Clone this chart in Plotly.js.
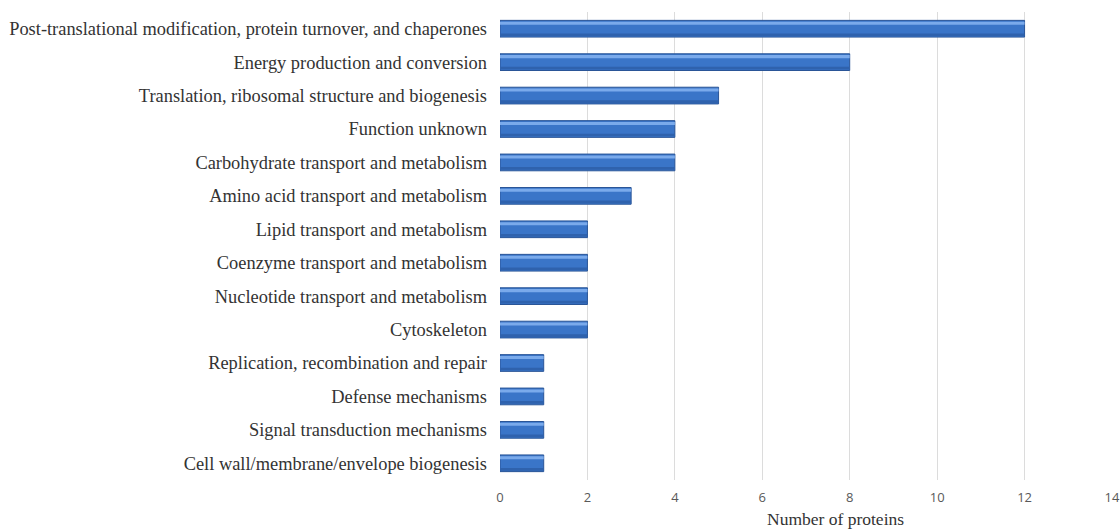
<!DOCTYPE html>
<html>
<head>
<meta charset="utf-8">
<script src="https://cdn.plot.ly/plotly-3.0.1.min.js"></script>
<style>html,body{margin:0;padding:0;background:#fff;}#chart{width:1120px;height:530px;}</style>
</head>
<body>
<div id="chart"></div>
<script>
const categories = [
  "Post-translational modification, protein turnover, and chaperones",
  "Energy production and conversion",
  "Translation, ribosomal structure and biogenesis",
  "Function unknown",
  "Carbohydrate transport and metabolism",
  "Amino acid transport and metabolism",
  "Lipid transport and metabolism",
  "Coenzyme transport and metabolism",
  "Nucleotide transport and metabolism",
  "Cytoskeleton",
  "Replication, recombination and repair",
  "Defense mechanisms",
  "Signal transduction mechanisms",
  "Cell wall/membrane/envelope biogenesis"
];
const proteinCounts = [12, 8, 5, 4, 4, 3, 2, 2, 2, 2, 1, 1, 1, 1];
const xTicks = [0, 2, 4, 6, 8, 10, 12, 14];
const xTitle = "Number of proteins";

const base = {
  type: 'bar', orientation: 'h', x: proteinCounts, y: categories,
  width: 0.5,
  marker: {color: '#3a75c8', line: {color: '#2a5597', width: 1}},
  hoverinfo: 'x+y', showlegend: false
};
const highlight = {
  type: 'bar', orientation: 'h', x: proteinCounts, y: categories,
  width: 0.09, offset: -0.21,
  marker: {color: '#7aaaeb', line: {width: 0}},
  hoverinfo: 'skip', showlegend: false
};
const shade = {
  type: 'bar', orientation: 'h', x: proteinCounts, y: categories,
  width: 0.08, offset: 0.14,
  marker: {color: '#2f62ad', line: {width: 0}},
  hoverinfo: 'skip', showlegend: false
};

const layout = {
  width: 1120, height: 530,
  margin: {l: 500, r: 8, t: 12, b: 50},
  paper_bgcolor: '#ffffff', plot_bgcolor: '#ffffff',
  barmode: 'overlay',
  xaxis: {
    range: [0, 14], tickvals: xTicks, ticktext: xTicks.map(String),
    showgrid: true, gridcolor: '#dcdcdc', gridwidth: 1, zeroline: false,
    showline: false, ticks: '', ticklabelstandoff: 8,
    tickfont: {family: 'Open Sans, Liberation Sans, sans-serif', size: 13, color: '#595959'}
  },
  yaxis: {
    type: 'category', autorange: 'reversed', showgrid: false, zeroline: false,
    showline: false, ticks: '', ticklabelstandoff: 12,
    tickfont: {family: 'Liberation Serif, Times New Roman, serif', size: 18.4, color: '#333333'}
  },
  annotations: [{
    text: xTitle, xref: 'paper', yref: 'paper', x: 0.549, y: -0.083,
    xanchor: 'center', yanchor: 'middle', showarrow: false,
    font: {family: 'Liberation Serif, Times New Roman, serif', size: 17.5, color: '#333333'}
  }]
};

Plotly.newPlot('chart', [base, shade, highlight], layout, {displayModeBar: false, staticPlot: true});
</script>
</body>
</html>
